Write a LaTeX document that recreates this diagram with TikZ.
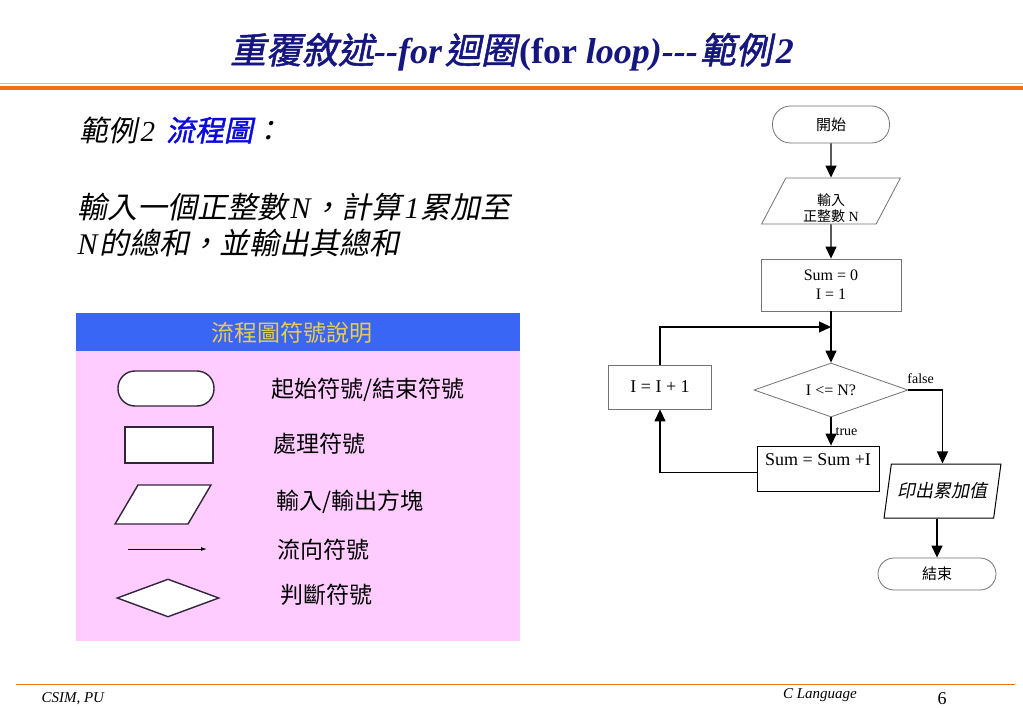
\documentclass[tikz,border=0pt]{standalone}
\usepackage{fontspec}
\setmainfont{Liberation Serif}
\newfontfamily\cjk{Noto Sans CJK TC}
\newfontfamily\cjkit[FakeSlant=0.2]{Noto Sans CJK TC}
\newfontfamily\cjkbi[FakeSlant=0.2,FakeBold=1.5]{Noto Sans CJK TC}
\usepackage{tikz}
\usetikzlibrary{positioning, arrows.meta, shapes.geometric, calc}

\definecolor{navy}{RGB}{22,22,128}
\definecolor{rule}{RGB}{240,112,24}
\definecolor{rulelight}{RGB}{246,184,136}
\definecolor{hdrblue}{RGB}{58,102,246}
\definecolor{hdrgold}{RGB}{232,204,80}
\definecolor{legpink}{RGB}{255,204,255}
\definecolor{leglines}{RGB}{50,36,60}
\definecolor{shapegray}{RGB}{115,115,115}
\definecolor{exblue}{RGB}{10,10,220}

\newcommand\fsz[2]{\fontsize{#1}{#2}\selectfont}
\newcommand\lat[1]{\kern3pt{\rmfamily\itshape #1}\kern1pt}

\tikzset{
    flow/.style={-{Triangle[length=12pt,width=11pt]}, line width=1.3pt, black},
    term/.style={draw=shapegray, line width=0.8pt, rectangle, rounded corners=18pt,
        minimum width=117pt, minimum height=37pt, font=\cjk\fsz{15}{18}},
    proc/.style={draw=shapegray, line width=0.8pt, rectangle, align=center,
        inner sep=0pt, font=\fsz{16}{19}},
    io/.style={draw=shapegray, line width=0.8pt, trapezium, trapezium stretches=true,
        inner sep=1pt, align=center},
    dec/.style={draw=shapegray, line width=0.8pt, diamond, aspect=2.85, inner sep=0pt,
        font=\fsz{16}{19}},
    legtext/.style={anchor=west, font=\cjk\fsz{23}{27}},
}

\begin{document}
\begin{tikzpicture}[x=1pt, y=-1pt]
    \useasboundingbox[fill=white] (0,0) rectangle (1023,708);

    % title and rules
    \node[text=navy, font=\fsz{36}{42}] (title) at (512,52)
        {{\cjkbi 重覆敘述}{\bfseries\itshape -{}-for}\kern3pt{\cjkbi 迴圈}\kern2pt{\bfseries (for \itshape loop)-{}-{}-}\kern2pt{\cjkbi 範例}\kern4pt{\bfseries\itshape 2}};
    \draw[rulelight, line width=1.2pt] (0,83.5) -- (1023,83.5);
    \draw[rule, line width=4pt] (0,88) -- (1023,88);

    % example text
    \node[anchor=west, font=\cjkit\fsz{29}{34}] (extitle) at (76,130)
        {範例\lat{2}\hspace{10pt}{\cjkbi\color{exblue}流程圖}：};
    \node[anchor=west, font=\cjkit\fsz{30}{36}] (exline1) at (74,207)
        {輸入一個正整數\lat{N}，計算\lat{1}累加至};
    \node[anchor=west, font=\cjkit\fsz{30}{36}] (exline2) at (74,243)
        {{\rmfamily\itshape N}\kern2pt 的總和，並輸出其總和};

    % legend
    \fill[legpink] (76,351) rectangle (520,641);
    \fill[hdrblue] (76,313) rectangle (520,351);
    \node[text=hdrgold, font=\cjk\fsz{23}{27}] (legtitle) at (292,333) {流程圖符號說明};

    \node[term, draw=leglines, line width=1.4pt, fill=white, minimum width=96pt,
        minimum height=35pt, rounded corners=17pt] (lterm) at (166,388.5) {};
    \node[proc, draw=leglines, line width=1.4pt, fill=white, minimum width=88pt,
        minimum height=36pt] (lproc) at (169,445) {};
    \node[io, draw=leglines, line width=1.4pt, fill=white, minimum width=96pt,
        minimum height=39pt, trapezium left angle=64, trapezium right angle=116] (lio) at (163,504.5) {\phantom{x}};
    \coordinate (larrs) at (128,549);
    \coordinate (larre) at (207,549);
    \draw[-{Latex[length=6pt,width=4pt]}, line width=1pt, black] (larrs) -- (larre);
    \node[dec, draw=leglines, line width=1.4pt, fill=white, minimum width=102pt,
        minimum height=38pt] (ldec) at (168,598) {};

    \foreach \i/\x/\y/\txt in {
        1/268/390/{起始符號/結束符號},
        2/270/444/處理符號,
        3/273/502/{輸入/輸出方塊},
        4/274/550/流向符號,
        5/277/595/判斷符號}
    {
        \node[legtext] (ltxt\i) at (\x,\y) {\txt};
    }

    % flow chart
    \node[term] (start) at (831,124.5) {開始};
    \node[io, minimum width=140pt, minimum height=46pt, trapezium left angle=63.4,
        trapezium right angle=116.6, font=\fsz{14}{19}] (input) at (831,201)
        {\raisebox{-7pt}[\height][\depth]{\shortstack{{\cjk 輸入}\\{\cjk 正整數} N}}};
    \node[proc, minimum width=140pt, minimum height=52pt] (init) at (831,285) {Sum = 0\\I = 1};
    \coordinate (join) at (831,327);
    \node[dec, minimum width=154pt, minimum height=54pt] (cond) at (831,390) {I <= N?};
    \node[proc, minimum width=103pt, minimum height=44pt, font=\fsz{18}{21}] (incr) at (660,387) {I = I + 1};
    \node[proc, draw=black, minimum width=122pt, minimum height=45pt, font=\fsz{18}{21},
        text height=12pt, text depth=18pt] (body) at (818,468.5) {Sum = Sum +I};
    \node[io, draw=black, line width=1pt, minimum width=117pt, minimum height=54pt,
        trapezium left angle=70.6, trapezium right angle=109.4,
        font=\cjkit\fsz{18}{21}] (out) at (942.5,491) {印出累加值};
    \node[term, minimum width=118pt, minimum height=32pt, rounded corners=16pt] (stop) at (937,574) {結束};

    % connectors
    \draw[flow] (start.south) -- (input.north);
    \draw[flow] (input.south) -- (init.north);
    \draw[flow] (init.south) -- (cond.north);
    \draw[flow] (incr.north) |- (join);
    \draw[flow] (cond.south) -- node[right, inner sep=1pt, xshift=3pt, font=\fsz{14}{16}] {true} (cond.south |- body.north);
    \draw[flow] ([yshift=-4pt]body.west) -| (incr.south);
    \draw[flow] (cond.east) -| node[pos=0.18, above=5pt, inner sep=1pt, font=\fsz{14}{16}] {false} (out.north);
    \draw[flow] (out.south -| stop.north) -- (stop.north);

    % footer
    \draw[rule, line width=1pt] (16,684) -- (1015,684);
    \node[anchor=west, font=\itshape\fsz{15}{18}] (footl) at (38,699) {CSIM, PU};
    \node[font=\itshape\fsz{15}{18}] (footr) at (820,695) {C Language};
    \node[inner sep=0pt, font=\fsz{18}{21}] (page) at (942,699) {6};
\end{tikzpicture}
\end{document}
